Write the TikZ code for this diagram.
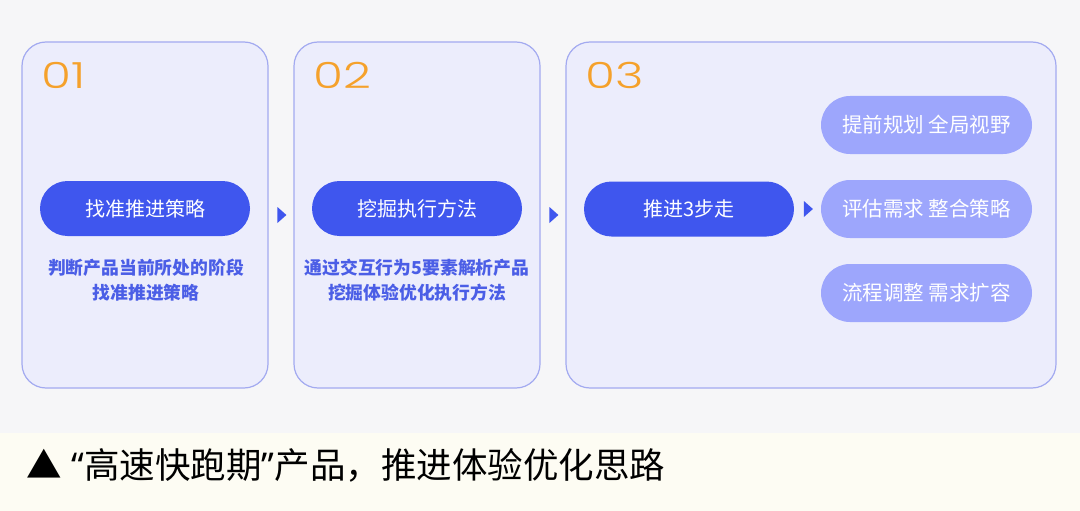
\documentclass[tikz,border=0pt]{standalone}
\usepackage{fontspec}
\setmainfont{Noto Sans CJK SC}
\newfontfamily\numfont{Poppins Light}[FakeStretch=1.35]
\newfontfamily\quotefont{Noto Sans}
\usepackage{tikz}
\usetikzlibrary{shapes.geometric, positioning, calc}
\usepackage{xcolor}
\definecolor{bgtop}{HTML}{F6F6F8}
\definecolor{bgcap}{HTML}{FDFCF3}
\definecolor{cardfill}{HTML}{ECEDFC}
\definecolor{cardline}{HTML}{A3AAF0}
\definecolor{pilldark}{HTML}{3F56EE}
\definecolor{pilllight}{HTML}{9DA6FC}
\definecolor{numorange}{HTML}{F5A12B}
\definecolor{notecol}{HTML}{4B5EE6}
\tikzstyle{card} = [rectangle, draw=cardline, fill=cardfill, line width=1.2pt, rounded corners=24pt, minimum width=246pt, minimum height=346pt]
\tikzstyle{pill} = [rectangle, fill=pilldark, text=white, rounded corners=27.5pt, minimum width=210pt, minimum height=55pt, font=\fontsize{20}{24}\selectfont]
\tikzstyle{lightpill} = [pill, fill=pilllight, minimum width=211pt, minimum height=58pt, rounded corners=29pt, font=\fontsize{20.5}{24}\selectfont]
\tikzstyle{note} = [text=notecol, align=center, font=\bfseries\fontsize{17.8}{25}\selectfont]
\tikzstyle{num} = [text=numorange, anchor=west, inner sep=0pt, font=\numfont\fontsize{36}{40}\selectfont]
\tikzstyle{tri} = [isosceles triangle, isosceles triangle stretches, fill=pilldark, minimum height=9pt, minimum width=16pt, inner sep=0pt]

\begin{document}
\begin{tikzpicture}[x=1pt, y=-1pt]
        \useasboundingbox (0,0) rectangle (1080,511);
        \fill[bgtop] (0,0) rectangle (1080,433);
        \fill[bgcap] (0,433) rectangle (1080,511);

        % three stages
        \node (c1) [card] at (145,215) {};
        \node (c2) [card] at (417,215) {};
        \node (c3) [card, minimum width=490pt] at (811,215) {};

        \node (n1) [num] at (41,75) {01};
        \node (n2) [num] at (313,75) {02};
        \node (n3) [num] at (585,75) {03};

        \node (p1) [pill] at (145,208.5) {找准推进策略};
        \node (p2) [pill] at (417,208.5) {挖掘执行方法};
        \node (p3) [pill] at (689,209) {推进3步走};

        \node (d1) [note] at (146,280.5) {判断产品当前所处的阶段\\找准推进策略};
        \node (d2) [note] at (417,280.5) {通过交互行为5要素解析产品\\挖掘体验优化执行方法};

        % three steps
        \node (s2) [lightpill] at (926.5,209) {评估需求 整合策略};
        \node (s1) [lightpill] at (926.5,125) {提前规划 全局视野};
        \node (s3) [lightpill] at (926.5,293) {流程调整 需求扩容};

        \path (c1) -- node[tri] {} (c2);
        \path (c2) -- node[tri] {} (c3);
        \path (p3) -- node[tri] {} (s2);

        \node (cap) [anchor=west, inner sep=0pt, font=\fontsize{35.5}{40}\selectfont] at (26,465) {▲\hspace{2pt} {\quotefont “}高速快跑期{\quotefont ”}产品，推进体验优化思路};
    \end{tikzpicture}
\end{document}
